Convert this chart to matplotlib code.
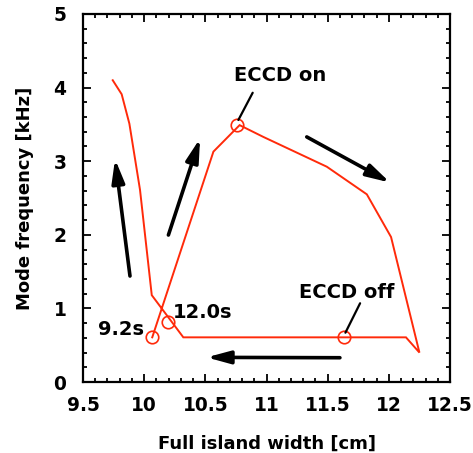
import matplotlib
matplotlib.use("Agg")
import matplotlib.pyplot as plt
from matplotlib.ticker import MultipleLocator

plt.rcParams['font.family'] = ['DejaVu Sans']
plt.rcParams['font.weight'] = 'bold'

# Trajectory of the mode in (island width, frequency) space
width_cm = [9.743, 9.816, 9.879, 9.966, 10.062, 10.32, 12.14, 12.25,
            12.018, 11.82, 11.493, 10.974, 10.78, 10.566, 10.066]
freq_khz = [4.10, 3.91, 3.51, 2.61, 1.18, 0.607, 0.607, 0.40,
            1.97, 2.55, 2.925, 3.33, 3.49, 3.13, 0.607]

# Marked instants
mark_x = [10.066, 10.192, 10.76, 11.63]
mark_y = [0.607, 0.82, 3.49, 0.607]

# Direction arrows (tail -> head)
arrow_tail_x = [9.884, 10.198, 11.329, 11.60]
arrow_tail_y = [1.44, 1.997, 3.33, 0.33]
arrow_head_x = [9.762, 10.457, 12.01, 10.51]
arrow_head_y = [3.03, 3.31, 2.71, 0.335]

red = '#ff2a0a'

fig = plt.figure(figsize=(4.73, 4.53), dpi=100)
ax = fig.add_axes([0.1755, 0.1567, 0.7759, 0.8124])

ax.plot(width_cm, freq_khz, color=red, lw=1.4, solid_joinstyle='miter')
ax.plot(mark_x, mark_y, 'o', ms=9, mfc='none', mec=red, mew=1.2)

for tx, ty, hx, hy in zip(arrow_tail_x, arrow_tail_y, arrow_head_x, arrow_head_y):
    ax.annotate('', xy=(hx, hy), xytext=(tx, ty),
                arrowprops=dict(arrowstyle='-|>,head_length=1.4,head_width=0.38',
                                color='black', lw=2.6, shrinkA=0, shrinkB=0))

# Labels with leader lines
ax.text(11.11, 4.17, 'ECCD on', ha='center', va='center', fontsize=14, fontweight='bold')
ax.annotate('', xy=(10.77, 3.56), xytext=(10.887, 3.93),
            arrowprops=dict(arrowstyle='-', color='black', lw=1.6,
                            shrinkA=0, shrinkB=0))
ax.text(11.659, 1.21, 'ECCD off', ha='center', va='center', fontsize=14, fontweight='bold')
ax.annotate('', xy=(11.645, 0.67), xytext=(11.765, 1.07),
            arrowprops=dict(arrowstyle='-', color='black', lw=1.6,
                            shrinkA=0, shrinkB=0))
ax.text(9.81, 0.72, '9.2s', ha='center', va='center', fontsize=14, fontweight='bold')
ax.text(10.48, 0.94, '12.0s', ha='center', va='center', fontsize=14, fontweight='bold')

ax.set_xlim(9.5, 12.5)
ax.set_ylim(0, 5)
ax.xaxis.set_minor_locator(MultipleLocator(0.1))
ax.yaxis.set_major_locator(MultipleLocator(1))
ax.yaxis.set_minor_locator(MultipleLocator(0.2))
ax.set_xticks([9.5, 10, 10.5, 11, 11.5, 12, 12.5])
ax.set_xticklabels(['9.5', '10', '10.5', '11', '11.5', '12', '12.5'])
ax.tick_params(which='both', direction='in', top=True, right=True, width=1.3,
               labelsize=13.4)
ax.tick_params(which='major', length=6)
ax.tick_params(which='minor', length=3)
ax.tick_params(axis='x', which='major', pad=10)
ax.tick_params(axis='y', which='major', pad=12)
for s in ax.spines.values():
    s.set_linewidth(1.6)
for lab in ax.get_xticklabels() + ax.get_yticklabels():
    lab.set_fontweight('bold')

ax.set_xlabel('Full island width [cm]', fontsize=13, fontweight='bold', labelpad=14)
ax.set_ylabel('Mode frequency [kHz]', fontsize=13, fontweight='bold', labelpad=14)

fig.savefig('out.png', dpi=100)
